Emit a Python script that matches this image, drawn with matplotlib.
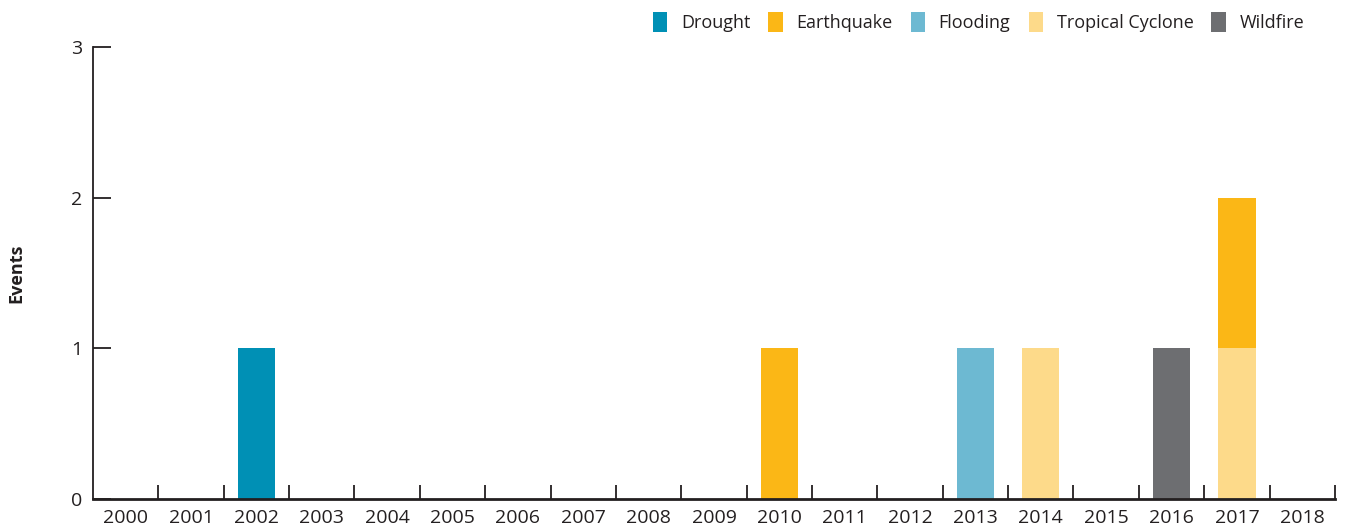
import matplotlib
matplotlib.use("Agg")
import matplotlib.pyplot as plt
import numpy as np
from matplotlib.patches import Patch

years = [str(y) for y in range(2000, 2019)]
drought =          [0,0,1,0,0,0,0,0,0,0,0,0,0,0,0,0,0,0,0]
earthquake =       [0,0,0,0,0,0,0,0,0,0,1,0,0,0,0,0,0,1,0]
flooding =         [0,0,0,0,0,0,0,0,0,0,0,0,0,1,0,0,0,0,0]
tropical_cyclone = [0,0,0,0,0,0,0,0,0,0,0,0,0,0,1,0,0,1,0]
wildfire =         [0,0,0,0,0,0,0,0,0,0,0,0,0,0,0,0,1,0,0]

series = [
    ("Drought", drought, "#0090B5"),
    ("Earthquake", earthquake, "#FBB716"),
    ("Flooding", flooding, "#6DB9D2"),
    ("Tropical Cyclone", tropical_cyclone, "#FDDA8A"),
    ("Wildfire", wildfire, "#6D6E71"),
]
# stacking order (bottom to top)
stack_order = ["Drought", "Flooding", "Tropical Cyclone", "Wildfire", "Earthquake"]

plt.rcParams['font.family'] = ['Open Sans', 'DejaVu Sans']

fig = plt.figure(figsize=(13.46, 5.27), dpi=100)
ax = fig.add_axes([0.0691, 0.0531, 0.9918 - 0.0691, 0.9108 - 0.0531])

x = np.arange(len(years))
bottom = np.zeros(len(years))
lookup = {n: (v, c) for n, v, c in series}
for name in stack_order:
    vals, col = lookup[name]
    vals = np.array(vals, dtype=float)
    ax.bar(x, vals, width=0.57, bottom=bottom, color=col, linewidth=0)
    bottom += vals

ax.set_xlim(-0.5, len(years) - 0.5)
ax.set_ylim(0, 3)
ax.set_yticks([0, 1, 2, 3])
ax.set_xticks(x)
ax.set_xticklabels(years)
ax.set_xticks(np.arange(0.5, len(years) - 0.4, 1), minor=True)

for s in ["top", "right"]:
    ax.spines[s].set_visible(False)
ax.spines["left"].set_color("#231F20")
ax.spines["left"].set_linewidth(1.3)
ax.spines["bottom"].set_color("#231F20")
ax.spines["bottom"].set_linewidth(2.0)

ax.tick_params(axis="x", which="major", length=0, labelsize=14, pad=7, colors="#231F20")
ax.tick_params(axis="x", which="minor", direction="in", length=10, width=1.3, color="#231F20")
ax.tick_params(axis="y", direction="in", length=13, width=1.3, labelsize=14, pad=8, colors="#231F20")

ax.set_ylabel("Events", fontsize=13, fontweight="bold", color="#231F20")
ax.yaxis.set_label_coords(-0.0545, 0.5)

handles = [Patch(facecolor=c, edgecolor="none", label=n) for n, v, c in series]
fig.legend(handles=handles, loc="center right", bbox_to_anchor=(0.981, 0.958), ncol=5,
           frameon=False, fontsize=13, handlelength=0.8, handleheight=1.3,
           handletextpad=0.75, columnspacing=1.0, labelcolor="#231F20")

fig.savefig("out.png", dpi=100)
